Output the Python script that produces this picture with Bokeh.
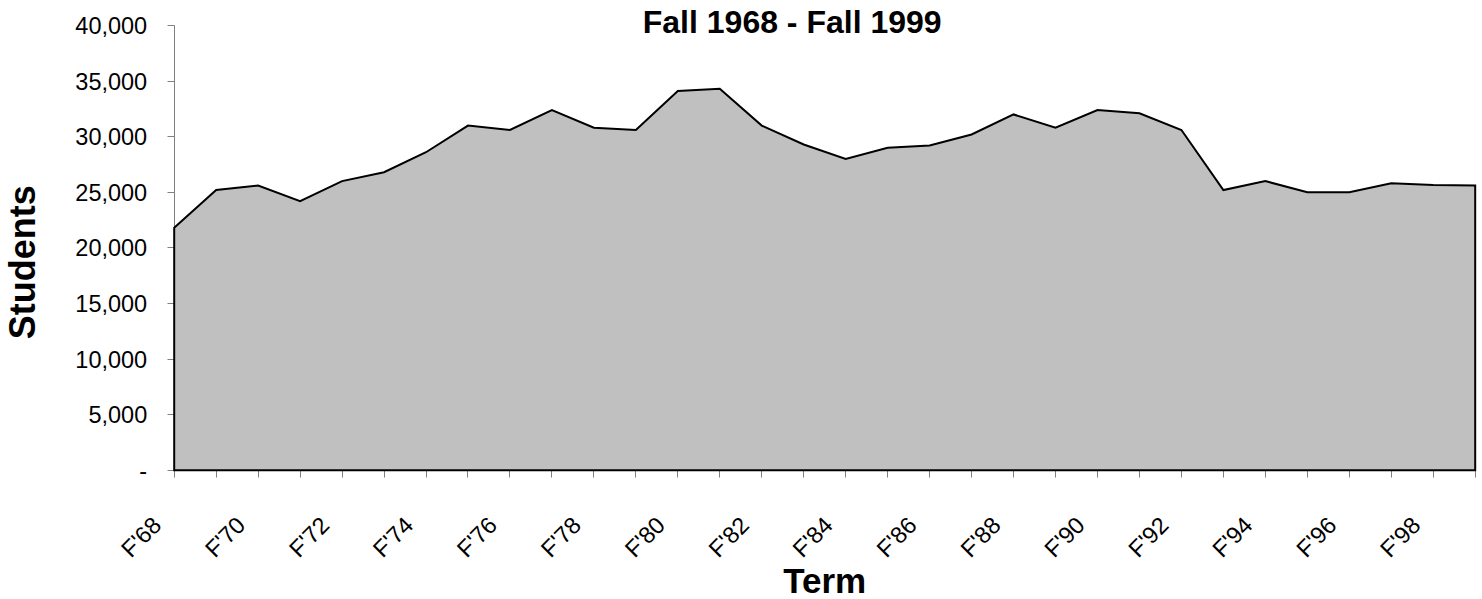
import math
from bokeh.plotting import figure
from bokeh.models import (Range1d, FixedTicker, Label, LabelSet,
                          NumeralTickFormatter, ColumnDataSource)
from bokeh.core.properties import value
from bokeh.embed import file_html
from bokeh.resources import INLINE

years = list(range(1968, 2000))
terms = ["F'%02d" % (y % 100) for y in years]
students = [21800, 25200, 25600, 24200, 26000, 26800, 28600, 31000,
            30600, 32400, 30800, 30600, 34100, 34300, 31000, 29300,
            28000, 29000, 29200, 30200, 32000, 30800, 32400, 32100,
            30600, 25200, 26000, 25000, 25000, 25800, 25650, 25600]
y_ticks = [0, 5000, 10000, 15000, 20000, 25000, 30000, 35000, 40000]
title_text = "Fall 1968 - Fall 1999"
x_title = "Term"
y_title = "Students"

FONT = "Liberation Sans"

# page layout (pixels): plot area inside the full-canvas frame
W, H = 1482, 599
AREA_L, AREA_R, AREA_T, AREA_B = 173.7, 1474.7, 25.0, 469.7
Y_MAX = 40000
px_x = (AREA_R - AREA_L) / (years[-1] - years[0])
px_y = (AREA_B - AREA_T) / Y_MAX
x_range = Range1d(years[0] - AREA_L / px_x, years[-1] + (W - AREA_R) / px_x)
y_range = Range1d(-(H - AREA_B) / px_y, Y_MAX + AREA_T / px_y)

p = figure(width=W, height=H, output_backend="svg", toolbar_location=None,
           x_range=x_range, y_range=y_range,
           min_border_left=0, min_border_right=0, min_border_top=0,
           min_border_bottom=0)
p.outline_line_color = None
p.xgrid.grid_line_color = None
p.ygrid.grid_line_color = None
p.background_fill_color = "white"
p.border_fill_color = "white"

# closed area polygon
xs = years + [years[-1], years[0]]
ys = students + [0, 0]
p.patch(xs, ys, fill_color="#C0C0C0", line_color="black", line_width=2,
        line_join="miter")

# x axis: drawn at y = 0, a tick for every term
xa = p.xaxis[0]
xa.fixed_location = 0
xa.bounds = (years[0], years[-1])
xa.level = "underlay"
xa.ticker = FixedTicker(ticks=[], minor_ticks=years)
xa.axis_line_color = "#808080"
xa.major_tick_line_color = "#808080"
xa.minor_tick_line_color = "#808080"
xa.major_tick_out = 7
xa.major_tick_in = 0
xa.minor_tick_out = 7
xa.minor_tick_in = 0

src = ColumnDataSource(data=dict(x=years[::2], text=terms[::2]))
xlabels = LabelSet(x="x", y=0, text="text", source=src, angle=math.pi / 4,
                   x_offset=-17, y_offset=-51, text_align="right",
                   text_baseline="middle", text_font=value(FONT),
                   text_font_size=value("23.5px"), text_color="black")
p.add_layout(xlabels)

# y axis: drawn at the first term
ya = p.yaxis[0]
ya.fixed_location = years[0]
ya.bounds = (0, Y_MAX)
ya.level = "underlay"
ya.ticker = FixedTicker(ticks=y_ticks)
ya.formatter = NumeralTickFormatter(format="0,0")
ya.major_label_overrides = {0: "-"}
ya.axis_line_color = "#808080"
ya.major_tick_line_color = "#808080"
ya.major_tick_out = 7
ya.major_tick_in = 0
ya.minor_tick_line_color = None
ya.major_label_standoff = 20
ya.major_label_text_font = FONT
ya.major_label_text_font_size = "23.5px"
ya.major_label_text_color = "black"

title = Label(x=years[0], y=Y_MAX, x_offset=618, y_offset=4, text=title_text,
              text_font=FONT, text_font_size="32px", text_font_style="bold",
              text_align="center", text_baseline="middle", text_color="black")
p.add_layout(title)

xlab = Label(x=(years[0] + years[-1]) / 2, y=0, y_offset=-110, text=x_title,
             text_font=FONT, text_font_size="35px", text_font_style="bold",
             text_align="center", text_baseline="middle", text_color="black")
p.add_layout(xlab)

ylab = Label(x=years[0], y=0, x_offset=-152, y_offset=208, text=y_title,
             angle=math.pi / 2, text_font=FONT, text_font_size="36px",
             text_font_style="bold", text_align="center",
             text_baseline="middle", text_color="black")
p.add_layout(ylab)

open("out.html", "w").write(file_html(p, INLINE))
